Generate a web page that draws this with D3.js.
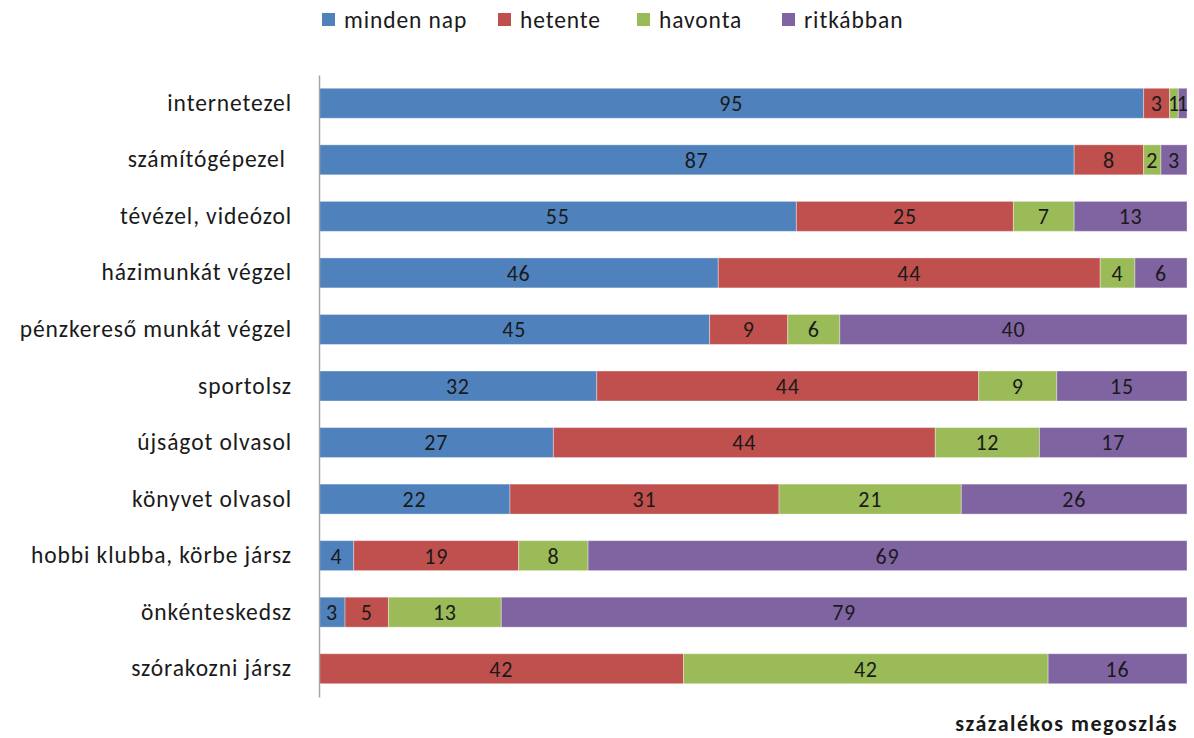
<!DOCTYPE html>
<html>
<head>
<meta charset="utf-8">
<script src="https://cdn.jsdelivr.net/npm/d3@7"></script>
<style>
  body { margin: 0; background: #fff; }
  text { font-family: Carlito, Lato, "Open Sans", sans-serif; fill: #1a1a1a; }
</style>
</head>
<body>
<div id="chart"></div>
<script>
// données (pourcentages)
const categories = ["internetezel", "számítógépezel ", "tévézel, videózol", "házimunkát végzel",
  "pénzkereső munkát végzel", "sportolsz", "újságot olvasol", "könyvet olvasol",
  "hobbi klubba, körbe jársz", "önkénteskedsz", "szórakozni jársz"];
const seriesNames = ["minden nap", "hetente", "havonta", "ritkábban"];
const mindenNap = [95, 87, 55, 46, 45, 32, 27, 22, 4, 3, 0];
const hetente   = [3, 8, 25, 44, 9, 44, 44, 31, 19, 5, 42];
const havonta   = [1, 2, 7, 4, 6, 9, 12, 21, 8, 13, 42];
const ritkabban = [1, 3, 13, 6, 40, 15, 17, 26, 69, 79, 16];
const colors = ["#4F81BD", "#C0504D", "#9BBB59", "#8064A2"];

const W = 1194, H = 738;
const margin = {top: 75, right: 6, bottom: 41, left: 319};

const table = categories.map((c, i) => ({
  cat: c, "minden nap": mindenNap[i], hetente: hetente[i], havonta: havonta[i], "ritkábban": ritkabban[i]
}));
const stack = d3.stack().keys(seriesNames)(table);

const svg = d3.select("#chart").append("svg").attr("width", W).attr("height", H);

const x = d3.scaleLinear().domain([0, 100]).range([margin.left, margin.left + 868]);
const y = d3.scaleBand().domain(categories).range([margin.top, H - margin.bottom]).paddingInner(0.47).paddingOuter(0.235);

// barres
const layers = svg.append("g").selectAll("g").data(stack).join("g")
  .attr("fill", (d, i) => colors[i]);
layers.selectAll("rect").data(d => d.filter(s => s[1] - s[0] > 0)).join("rect")
  .attr("x", d => x(d[0]))
  .attr("y", d => y(d.data.cat))
  .attr("width", d => x(d[1]) - x(d[0]))
  .attr("height", y.bandwidth())
  .attr("stroke", "rgba(255,255,255,0.35)")
  .attr("stroke-width", 1);

// valeurs
layers.selectAll("text").data(d => d.filter(s => s[1] - s[0] > 0)).join("text")
  .attr("x", d => (x(d[0]) + x(d[1])) / 2)
  .attr("y", d => y(d.data.cat) + y.bandwidth() / 2)
  .attr("dy", "0.36em")
  .attr("text-anchor", "middle")
  .style("font-size", "22px")
  .style("letter-spacing", "0.8px")
  .text(d => d[1] - d[0]);

// axe Y
const yAxis = svg.append("g")
  .attr("transform", `translate(${margin.left},0)`)
  .call(d3.axisLeft(y).tickSize(0).tickPadding(27));
yAxis.select(".domain").attr("stroke", "#a6a6a6").attr("stroke-width", 1.5);
yAxis.selectAll("text").style("font-size", "23.5px").style("letter-spacing", "0.9px")
  .style("white-space", "pre")
  .attr("font-family", null).attr("fill", "#1a1a1a");

// légende
const legX = [322, 498, 637, 782];
const leg = svg.append("g").selectAll("g").data(seriesNames).join("g")
  .attr("transform", (d, i) => `translate(${legX[i]},13)`);
leg.append("rect").attr("width", 13).attr("height", 13).attr("fill", (d, i) => colors[i]);
leg.append("text").attr("x", 22).attr("y", 7).attr("dy", "0.36em")
  .style("font-size", "23.5px").style("letter-spacing", "0.9px").text(d => d);

// titre axe
svg.append("text").attr("x", 1178).attr("y", 723).attr("dy", "0.36em")
  .attr("text-anchor", "end").style("font-size", "22px").style("font-weight", "bold")
  .style("letter-spacing", "1.5px")
  .text("százalékos megoszlás");
</script>
</body>
</html>
